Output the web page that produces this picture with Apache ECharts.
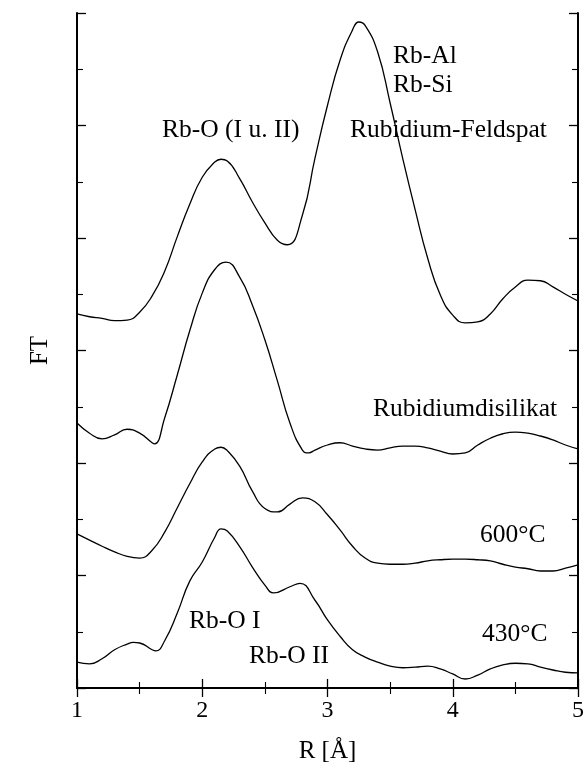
<!DOCTYPE html>
<html>
<head>
<meta charset="utf-8">
<script src="https://cdn.jsdelivr.net/npm/echarts@6/dist/echarts.min.js"></script>
<style>
  html, body { margin: 0; padding: 0; background: #fff; }
  #chart { width: 586px; height: 770px; }
</style>
</head>
<body>
<div id="chart"></div>
<script>
// Fourier-transformed EXAFS spectra (Rb K edge), stacked with vertical offsets
const rFeldspat = [1.0, 1.1, 1.2, 1.3, 1.4, 1.5, 1.6, 1.7, 1.8, 1.9, 2.0, 2.1, 2.15, 2.2, 2.3, 2.4, 2.5, 2.6, 2.68, 2.8, 2.9, 3.0, 3.1, 3.2, 3.25, 3.3, 3.4, 3.5, 3.6, 3.7, 3.8, 3.9, 4.0, 4.1, 4.2, 4.3, 4.4, 4.5, 4.6, 4.7, 4.8, 4.9, 5.0];
const ftFeldspat = [6.65, 6.6, 6.57, 6.53, 6.54, 6.68, 6.97, 7.41, 8.02, 8.6, 9.08, 9.35, 9.4, 9.37, 9.05, 8.64, 8.27, 7.96, 7.88, 8.41, 9.42, 10.36, 11.16, 11.7, 11.84, 11.78, 11.31, 10.4, 9.42, 8.5, 7.64, 6.99, 6.63, 6.49, 6.51, 6.65, 6.92, 7.13, 7.25, 7.24, 7.13, 7.0, 6.88];

const rDisilikat = [1.0, 1.1, 1.2, 1.3, 1.4, 1.5, 1.6, 1.62, 1.7, 1.8, 1.9, 2.0, 2.1, 2.19, 2.3, 2.4, 2.5, 2.6, 2.7, 2.8, 2.85, 2.9, 3.0, 3.1, 3.2, 3.3, 3.4, 3.5, 3.6, 3.7, 3.8, 3.9, 4.0, 4.1, 4.2, 4.3, 4.4, 4.5, 4.6, 4.7, 4.8, 4.9, 5.0];
const ftDisilikat = [4.71, 4.53, 4.43, 4.5, 4.6, 4.53, 4.36, 4.34, 4.8, 5.56, 6.35, 7.02, 7.44, 7.57, 7.3, 6.81, 6.19, 5.46, 4.71, 4.23, 4.18, 4.23, 4.32, 4.36, 4.3, 4.25, 4.23, 4.27, 4.3, 4.3, 4.27, 4.21, 4.16, 4.18, 4.32, 4.44, 4.52, 4.55, 4.53, 4.48, 4.41, 4.32, 4.25];

const r600 = [1.0, 1.1, 1.2, 1.3, 1.4, 1.5, 1.6, 1.7, 1.8, 1.9, 2.0, 2.1, 2.15, 2.2, 2.3, 2.4, 2.5, 2.6, 2.7, 2.8, 2.9, 3.0, 3.1, 3.2, 3.3, 3.4, 3.5, 3.6, 3.7, 3.8, 3.9, 4.0, 4.1, 4.2, 4.3, 4.4, 4.5, 4.6, 4.7, 4.8, 4.9, 5.0];
const ft600 = [2.74, 2.63, 2.52, 2.42, 2.34, 2.31, 2.45, 2.77, 3.2, 3.63, 4.02, 4.25, 4.28, 4.22, 3.94, 3.5, 3.19, 3.13, 3.27, 3.38, 3.31, 3.08, 2.81, 2.52, 2.31, 2.22, 2.2, 2.2, 2.22, 2.26, 2.28, 2.29, 2.29, 2.28, 2.26, 2.2, 2.15, 2.12, 2.08, 2.08, 2.13, 2.19];

const r430 = [1.0, 1.1, 1.2, 1.3, 1.4, 1.45, 1.5, 1.6, 1.63, 1.7, 1.8, 1.9, 2.0, 2.1, 2.15, 2.2, 2.3, 2.4, 2.5, 2.57, 2.7, 2.78, 2.9, 3.0, 3.1, 3.2, 3.3, 3.4, 3.5, 3.6, 3.7, 3.8, 3.9, 4.0, 4.1, 4.2, 4.3, 4.4, 4.5, 4.6, 4.7, 4.8, 4.9, 5.0];
const ft430 = [0.46, 0.43, 0.52, 0.68, 0.78, 0.81, 0.8, 0.68, 0.66, 0.84, 1.33, 1.9, 2.24, 2.68, 2.83, 2.79, 2.51, 2.15, 1.83, 1.69, 1.8, 1.86, 1.56, 1.21, 0.92, 0.68, 0.55, 0.46, 0.39, 0.36, 0.37, 0.39, 0.34, 0.25, 0.16, 0.23, 0.34, 0.41, 0.44, 0.43, 0.37, 0.32, 0.28, 0.27];

const xTicks = { min: 1, max: 5, interval: 1 };
const yRange = { min: 0, max: 12, interval: 2 };

const SERIF = '"Liberation Serif", "Times New Roman", serif';

function zip(xs, ys) { return xs.map((x, i) => [x, ys[i]]); }

function spectrum(name, xs, ys) {
  return {
    name: name,
    type: 'line',
    data: zip(xs, ys),
    smooth: 0.5,
    showSymbol: false,
    lineStyle: { color: '#000', width: 1.3 },
    xAxisIndex: 0,
    yAxisIndex: 0
  };
}

const frameLine = { show: true, lineStyle: { color: '#000', width: 2 } };
const majorTick = { show: true, inside: true, length: 9, lineStyle: { color: '#000', width: 1.3 } };
const minorTick = { show: true, splitNumber: 2, length: 6, lineStyle: { color: '#000', width: 1.1 } };

const chart = echarts.init(document.getElementById('chart'), null, { renderer: 'canvas' });

chart.setOption({
  animation: false,
  backgroundColor: '#fff',
  grid: { left: 77, right: 8, top: 13, bottom: 82, outerBoundsMode: 'none' },
  xAxis: [
    {
      type: 'value', position: 'bottom',
      min: xTicks.min, max: xTicks.max, interval: xTicks.interval,
      axisLine: frameLine, axisTick: majorTick, minorTick: minorTick,
      splitLine: { show: false }, minorSplitLine: { show: false },
      axisLabel: { color: '#000', fontFamily: SERIF, fontSize: 24, margin: 11 },
      name: 'R [Å]', nameLocation: 'middle', nameGap: 51,
      nameTextStyle: { color: '#000', fontFamily: SERIF, fontSize: 25 }
    },
    {
      type: 'value', position: 'top',
      min: xTicks.min, max: xTicks.max, interval: xTicks.interval,
      axisLine: frameLine, axisTick: majorTick, minorTick: minorTick,
      splitLine: { show: false }, axisLabel: { show: false }
    }
  ],
  yAxis: [
    {
      type: 'value', position: 'left',
      min: yRange.min, max: yRange.max, interval: yRange.interval,
      axisLine: frameLine, axisTick: majorTick, minorTick: minorTick,
      splitLine: { show: false }, axisLabel: { show: false },
      name: 'FT', nameLocation: 'middle', nameGap: 24, nameRotate: 90,
      nameTextStyle: { color: '#000', fontFamily: SERIF, fontSize: 25 }
    },
    {
      type: 'value', position: 'right',
      min: yRange.min, max: yRange.max, interval: yRange.interval,
      axisLine: frameLine, axisTick: majorTick, minorTick: minorTick,
      splitLine: { show: false }, axisLabel: { show: false }
    }
  ],
  series: [
    spectrum('Rubidium-Feldspat', rFeldspat, ftFeldspat),
    spectrum('Rubidiumdisilikat', rDisilikat, ftDisilikat),
    spectrum('600°C', r600, ft600),
    spectrum('430°C', r430, ft430)
  ],
  graphic: [
    ['Rb-O (I u. II)', 162, 130],
    ['Rb-Al', 393, 56],
    ['Rb-Si', 393, 85],
    ['Rubidium-Feldspat', 350, 130],
    ['Rubidiumdisilikat', 373, 409],
    ['600°C', 480, 535],
    ['430°C', 482, 634],
    ['Rb-O I', 189, 621],
    ['Rb-O II', 249, 656]
  ].map(([text, x, y]) => ({
    type: 'text', x: x, y: y, silent: true,
    style: { text: text, fill: '#000', font: '25.5px ' + SERIF, verticalAlign: 'middle', align: 'left' }
  }))
});
</script>
</body>
</html>
